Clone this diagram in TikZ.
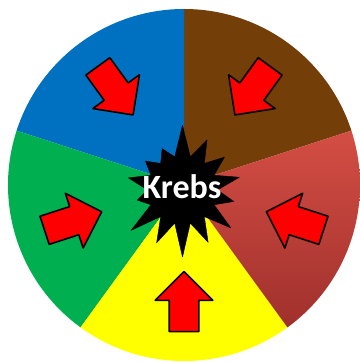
\documentclass[tikz,border=0pt]{standalone}
\usepackage{fontspec}
\setsansfont{Carlito}
\usetikzlibrary{shapes.arrows,shapes.symbols}
\definecolor{wblue}{RGB}{0,112,192}
\definecolor{wbrown}{RGB}{115,62,8}
\definecolor{wred}{RGB}{212,78,68}
\definecolor{wredd}{RGB}{160,48,44}
\definecolor{wyellow}{RGB}{255,255,0}
\definecolor{wgreen}{RGB}{0,176,80}
\begin{document}
\begin{tikzpicture}[x=1pt, y=1pt, line join=round,
	pointer/.style={single arrow, draw=black, line width=1.6pt, fill=red, inner sep=14pt,
		minimum height=60pt, minimum width=56pt, single arrow head extend=14pt, single arrow head indent=0pt}]
	\def\r{176} \def\d{124} % radius of the wheel, distance of the arrows
	\useasboundingbox (-184,-178) rectangle (175,185);
	\foreach \s/\col in {18/wbrown, 90/wblue, 162/wgreen, 234/wyellow}
		\fill[\col] (0,0) -- (\s:\r) arc (\s:\s+72:\r) -- cycle;
	\shade[top color=wred, bottom color=wredd] (0,0) -- (-54:\r) arc (-54:18:\r) -- cycle;
	% arrows pointing in
	\foreach \m in {54,126,198,270,342}
		\node[pointer, rotate=\m+180] (arr\m) at (\m:\d) {};
	\node[starburst, fill=black, draw=black, minimum width=138pt, minimum height=136pt, inner sep=0pt,
		starburst points=14, starburst point height=34pt, random starburst=7] (burst) at (-1.5,-5) {};
	\node[text=white, font=\sffamily\bfseries\fontsize{34}{34}\selectfont] (krebs) at (-2,-2) {Krebs};
\end{tikzpicture}
\end{document}
